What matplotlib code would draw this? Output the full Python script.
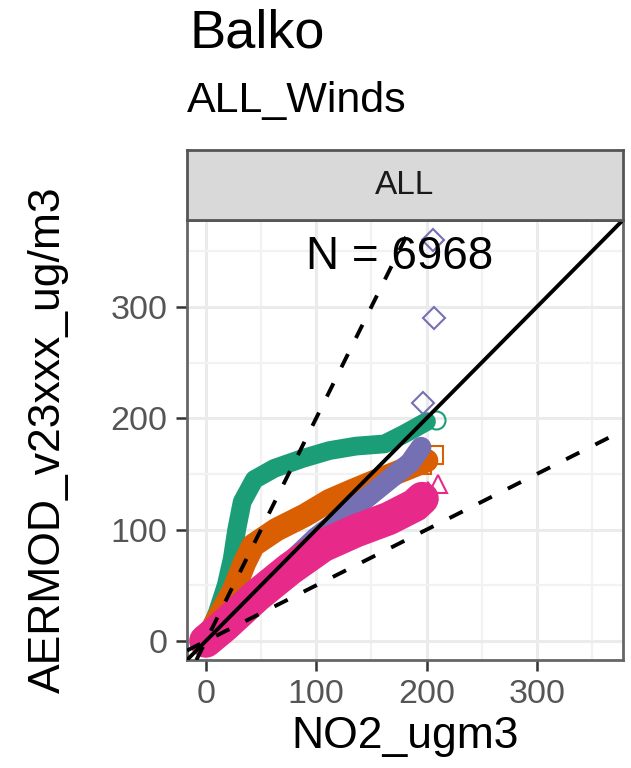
import matplotlib
matplotlib.use("Agg")
import matplotlib.pyplot as plt
from matplotlib.ticker import MultipleLocator

plt.rcParams['font.family'] = ['Liberation Sans', 'DejaVu Sans']

# quantile bands (bulk of each series)
green_x = [0, 10.5, 18.5, 24, 28, 33, 44, 62, 88, 112, 136, 162, 180, 200]
green_y = [0, 25.6, 50, 74, 100, 125, 145, 155, 164, 171, 175, 177, 186, 197]
orange_x = [0, 12, 25, 35, 43, 64, 90, 112, 133, 155, 180, 200]
orange_y = [0, 22, 45, 70, 86, 100, 113, 126, 135, 144, 154, 162]
purple_x = [0, 50, 100, 120, 140, 165, 185, 195]
purple_y = [0, 46, 93, 108, 124, 144, 160, 174]
pink_x = [0, 16.4, 46, 76, 106, 136, 165.7, 189.5, 196]
pink_y = [0, 13.5, 40.6, 64.7, 85.7, 99, 110, 122, 128]

# top quantiles that stand apart from the bands
green_tail_x = [209]
green_tail_y = [198.5]
orange_tail_x = [195.5, 207]
orange_tail_y = [158, 167]
purple_tail_x = [196.5, 206.5, 205.6]
purple_tail_y = [213.6, 290, 360]
pink_tail_x = [201.5, 210]
pink_tail_y = [135, 141]

ref_slopes = [1, 2, 0.5]
n_obs = 6968

fig = plt.figure(figsize=(6.31, 7.68), dpi=100)
ax = fig.add_axes([187/631, 108/768, 436/631, 440/768])
strip = fig.add_axes([187/631, 548/768, 436/631, 70/768])

series = [
    (green_x, green_y, green_tail_x, green_tail_y, '#1B9E77', 'o', 13.5),
    (orange_x, orange_y, orange_tail_x, orange_tail_y, '#D95F02', 's', 17),
    (purple_x, purple_y, purple_tail_x, purple_tail_y, '#7570B3', 'D', 15),
    (pink_x, pink_y, pink_tail_x, pink_tail_y, '#E7298A', '^', 24),
]
for i, (x, y, tx, ty, col, mk, w) in enumerate(series):
    ax.plot(x, y, color=col, lw=w, solid_capstyle='round', solid_joinstyle='round', zorder=3 + i)
    ax.plot(tx, ty, ls='none', marker=mk, ms=13 if mk != 'D' else 11.5, mfc='none', mec=col, mew=1.5, zorder=3 + i)

for s in ref_slopes:
    if s == 1:
        ax.axline((0, 0), slope=s, color='black', lw=2.8, zorder=10)
    else:
        ax.axline((0, 0), slope=s, color='black', lw=2.8, ls=(0, (3.8, 4.6)), zorder=10)

ax.text(176, 345, f"N = {n_obs}", fontsize=33, ha='center', va='center', zorder=11)

ax.set_xlim(-17, 378)
ax.set_ylim(-17, 378)
ax.xaxis.set_major_locator(MultipleLocator(100))
ax.yaxis.set_major_locator(MultipleLocator(100))
ax.xaxis.set_minor_locator(MultipleLocator(50))
ax.yaxis.set_minor_locator(MultipleLocator(50))
ax.grid(which='major', color='#EBEBEB', lw=2.2, zorder=0)
ax.grid(which='minor', color='#F2F2F2', lw=1.6, zorder=0)
ax.set_axisbelow(True)
ax.tick_params(which='minor', length=0)
ax.tick_params(which='major', length=8, width=1.8, color='#333333', labelcolor='#555555', labelsize=24.5, pad=6)
for sp in ax.spines.values():
    sp.set_color('#666666')
    sp.set_linewidth(2)

ax.set_xlabel("NO2_ugm3", fontsize=32, labelpad=4)
fig.text(48/631, (768 - 440)/768, "AERMOD_v23xxx_ug/m3", fontsize=32, rotation=90, ha='center', va='center')

strip.set_facecolor('#D9D9D9')
strip.set_xticks([])
strip.set_yticks([])
for sp in strip.spines.values():
    sp.set_color('#555555')
    sp.set_linewidth(2)
strip.text(0.5, 0.5, "ALL", fontsize=24, color='#1A1A1A', ha='center', va='center', transform=strip.transAxes)

fig.text(189/631, 1 - 48/768, "Balko", fontsize=39, va='baseline')
fig.text(187/631, 1 - 112/768, "ALL_Winds", fontsize=31, va='baseline')

fig.savefig("out.png", dpi=100)
